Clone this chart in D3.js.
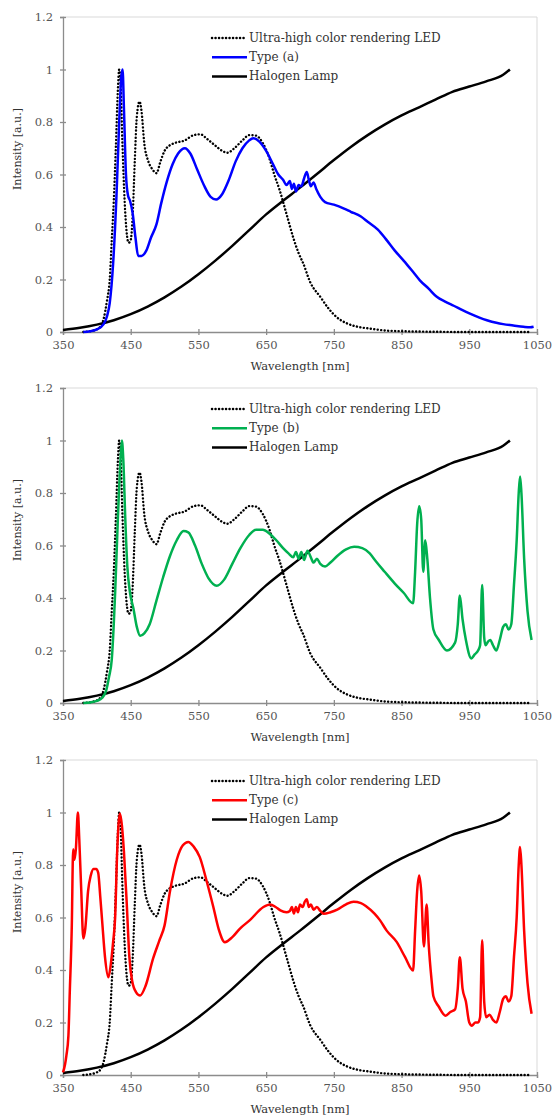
<!DOCTYPE html>
<html lang="en">
<head>
<meta charset="UTF-8">
<title>Spectra</title>
<script src="https://d3js.org/d3.v7.min.js"></script>
<style>
  body { margin: 0; background: #fff; }
  text { font-family: "DejaVu Serif", serif; }
</style>
</head>
<body>
<div id="chart"></div>
<script>
// tick labels
const xTicks = [350, 450, 550, 650, 750, 850, 950, 1050];
const yTicks = [0, 0.2, 0.4, 0.6, 0.8, 1, 1.2];
const legendNames = ["Ultra-high color rendering LED", "Type (a)", "Halogen Lamp"];

// halogen lamp [nm, intensity]
const halogen = [[350,0.008],[375,0.016],[400,0.028],[425,0.045],[450,0.068],[475,0.097],[500,0.132],
  [525,0.173],[550,0.22],[575,0.272],[600,0.328],[625,0.388],[650,0.448],[675,0.5],[700,0.55],
  [725,0.602],[750,0.655],[775,0.705],[800,0.75],[825,0.79],[850,0.825],[875,0.855],[900,0.885],
  [925,0.915],[950,0.935],[975,0.955],[1000,0.98],[1010,1.0]];

// ultra-high color rendering LED
const led = [[380,0],[390,0.003],[400,0.01],[405,0.02],[410,0.05],[415,0.12],[419,0.2],[422,0.35],
  [425,0.5],[428,0.7],[431,0.92],[433,1.0],[435,0.95],[438,0.7],[441,0.5],[444,0.38],[447,0.34],
  [450,0.35],[453,0.45],[456,0.65],[459,0.82],[463,0.878],[466,0.84],[470,0.72],[476,0.65],
  [482,0.62],[488,0.605],[494,0.65],[500,0.69],[507,0.71],[515,0.72],[530,0.73],[543,0.75],
  [553,0.753],[563,0.735],[575,0.71],[585,0.69],[593,0.683],[603,0.7],[615,0.73],[625,0.75],
  [635,0.748],[645,0.72],[655,0.66],[662,0.6],[670,0.54],[680,0.45],[690,0.36],[698,0.3],
  [705,0.26],[715,0.19],[730,0.134],[742,0.09],[754,0.057],[770,0.032],[785,0.02],[803,0.013],
  [830,0.005],[870,0.002],[900,0.001],[950,0],[1000,0],[1040,0]];

// type (a)
const typeA = [[380,0],[390,0.003],[400,0.01],[410,0.03],[415,0.06],[419,0.11],[424,0.26],[429,0.52],
  [433,0.8],[436,0.97],[438,1.0],[440,0.85],[443,0.6],[446,0.52],[449,0.5],[453,0.45],[457,0.36],
  [461,0.29],[466,0.29],[473,0.31],[480,0.36],[488,0.41],[495,0.49],[503,0.57],[512,0.64],
  [520,0.68],[530,0.7],[538,0.68],[548,0.62],[558,0.56],[568,0.515],[576,0.505],[585,0.525],
  [595,0.58],[605,0.65],[615,0.7],[625,0.73],[631,0.738],[640,0.725],[650,0.69],[660,0.64],
  [668,0.6],[675,0.58],[680,0.56],[685,0.575],[688,0.545],[691,0.565],[694,0.535],[698,0.56],
  [702,0.555],[706,0.585],[710,0.61],[713,0.58],[716,0.555],[720,0.57],[724,0.545],[730,0.515],
  [737,0.495],[750,0.485],[765,0.47],[775,0.458],[790,0.44],[800,0.42],[815,0.39],[828,0.35],
  [840,0.31],[853,0.272],[865,0.235],[877,0.197],[890,0.165],[902,0.134],[915,0.115],[927,0.1],
  [940,0.083],[951,0.07],[965,0.055],[976,0.045],[990,0.035],[1000,0.03],[1015,0.025],
  [1030,0.02],[1040,0.018],[1045,0.02]];

// type (b)
const typeB = [[380,0],[390,0.002],[400,0.008],[408,0.02],[414,0.05],[418,0.1],[422,0.165],[427,0.42],
  [431,0.7],[435,0.93],[437,1.0],[439,0.93],[442,0.7],[445,0.52],[449,0.42],[454,0.36],[459,0.29],
  [464,0.256],[470,0.265],[478,0.3],[488,0.39],[498,0.48],[508,0.56],[518,0.62],[528,0.655],
  [535,0.65],[545,0.6],[555,0.53],[565,0.475],[577,0.447],[588,0.47],[600,0.53],[612,0.59],
  [625,0.64],[635,0.66],[645,0.66],[655,0.645],[665,0.62],[675,0.59],[683,0.57],[690,0.555],
  [694,0.575],[698,0.55],[702,0.575],[706,0.545],[711,0.58],[716,0.555],[720,0.535],[725,0.55],
  [730,0.53],[737,0.52],[745,0.535],[755,0.56],[768,0.585],[780,0.595],[792,0.59],[803,0.57],
  [812,0.54],[825,0.5],[840,0.455],[853,0.42],[867,0.38],[870,0.5],[873,0.68],[876,0.75],
  [879,0.7],[882,0.5],[885,0.62],[888,0.55],[892,0.4],[897,0.28],[905,0.24],[917,0.2],[929,0.23],
  [933,0.3],[936,0.41],[940,0.32],[945,0.24],[953,0.17],[958,0.185],[963,0.2],[966,0.22],
  [969,0.45],[972,0.25],[974,0.22],[978,0.235],[981,0.24],[985,0.22],[990,0.2],[995,0.24],
  [1000,0.29],[1004,0.3],[1008,0.28],[1012,0.3],[1016,0.45],[1020,0.62],[1023,0.8],[1025,0.863],
  [1027,0.8],[1031,0.55],[1036,0.35],[1042,0.24]];

// type (c)
const typeC = [[350,0.01],[353,0.04],[355,0.074],[358,0.15],[360,0.315],[363,0.57],[365,0.86],[367,0.82],
  [369,0.86],[372,1.0],[374,0.9],[377,0.7],[380,0.52],[383,0.56],[387,0.7],[391,0.76],[395,0.785],
  [399,0.785],[402,0.77],[405,0.68],[408,0.58],[412,0.45],[417,0.372],[420,0.41],[424,0.506],
  [427,0.6],[430,0.85],[434,0.996],[437,0.95],[440,0.85],[444,0.66],[448,0.45],[452,0.36],
  [458,0.315],[464,0.303],[472,0.34],[483,0.443],[492,0.51],[500,0.57],[508,0.7],[518,0.82],
  [527,0.875],[535,0.888],[543,0.87],[552,0.83],[562,0.74],[572,0.64],[580,0.555],[589,0.506],
  [600,0.525],[611,0.557],[626,0.59],[646,0.64],[656,0.65],[664,0.64],[671,0.627],[680,0.62],
  [685,0.625],[688,0.64],[691,0.615],[694,0.64],[697,0.62],[700,0.65],[704,0.64],[707,0.66],
  [710,0.67],[713,0.64],[716,0.65],[720,0.63],[725,0.64],[730,0.625],[735,0.614],[745,0.62],
  [755,0.63],[768,0.65],[779,0.66],[790,0.655],[799,0.64],[810,0.615],[818,0.59],[828,0.55],
  [843,0.506],[855,0.45],[867,0.398],[870,0.55],[873,0.7],[876,0.76],[879,0.7],[883,0.49],
  [887,0.65],[890,0.5],[894,0.37],[897,0.3],[905,0.26],[915,0.226],[922,0.24],[929,0.25],
  [933,0.33],[936,0.449],[940,0.33],[945,0.28],[950,0.2],[954,0.188],[959,0.2],[963,0.2],
  [966,0.22],[969,0.513],[972,0.28],[975,0.22],[980,0.23],[985,0.21],[990,0.2],[995,0.24],
  [1000,0.29],[1004,0.3],[1008,0.28],[1012,0.3],[1016,0.45],[1020,0.6],[1023,0.8],[1025,0.869],
  [1027,0.8],[1031,0.55],[1036,0.35],[1042,0.233]];

const panels = [
  { name: "Type (a)", color: "#0000ff", data: typeA, top: 17 },
  { name: "Type (b)", color: "#00b050", data: typeB, top: 388 },
  { name: "Type (c)", color: "#ff0000", data: typeC, top: 760 }
];

const W = 554, H = 1117;
const left = 63, right = 537, plotH = 315;

const svg = d3.select("#chart").append("svg")
  .attr("width", W).attr("height", H);

const x = d3.scaleLinear().domain([350, 1050]).range([left, right]);

panels.forEach(function (p) {
  const y = d3.scaleLinear().domain([0, 1.2]).range([p.top + plotH, p.top]);
  const g = svg.append("g");

  // plot frame (top + right)
  g.append("path")
    .attr("d", `M${left},${p.top}H${right}V${p.top + plotH}`)
    .attr("fill", "none").attr("stroke", "#d9d9d9").attr("stroke-width", 1);

  const xAxis = g.append("g")
    .attr("transform", `translate(0,${p.top + plotH})`)
    .call(d3.axisBottom(x).tickValues(xTicks).tickSize(3).tickPadding(6).tickFormat(d3.format("d")));
  xAxis.selectAll(".tick line").attr("y1", -3).attr("y2", 3);

  const yAxis = g.append("g")
    .attr("transform", `translate(${left},0)`)
    .call(d3.axisLeft(y).tickValues(yTicks).tickSize(3).tickPadding(7).tickFormat(d => d3.format("~g")(d)));
  yAxis.selectAll(".tick line").attr("x1", -3).attr("x2", 3);

  [xAxis, yAxis].forEach(a => {
    a.select(".domain").attr("stroke", "#8c8c8c").attr("stroke-width", 1.3);
    a.selectAll(".tick line").attr("stroke", "#8c8c8c").attr("stroke-width", 1.3);
    a.selectAll(".tick text").attr("fill", "#555").style("font-size", "11.5px");
  });

  g.append("text")
    .attr("x", (left + right) / 2).attr("y", p.top + plotH + 38)
    .attr("text-anchor", "middle").attr("fill", "#333")
    .style("font-size", "11.5px")
    .text("Wavelength [nm]");

  g.append("text")
    .attr("transform", `translate(21,${p.top + 132}) rotate(-90)`)
    .attr("text-anchor", "middle").attr("fill", "#333")
    .style("font-size", "11px")
    .text("Intensity [a.u.]");

  const line = d3.line()
    .x(d => x(d[0])).y(d => y(d[1]))
    .curve(d3.curveMonotoneX);

  g.append("path").datum(halogen)
    .attr("d", line).attr("fill", "none")
    .attr("stroke", "#000").attr("stroke-width", 2.5);

  g.append("path").datum(led)
    .attr("d", line).attr("fill", "none")
    .attr("stroke", "#000").attr("stroke-width", 2.4)
    .attr("stroke-linecap", "round").attr("stroke-dasharray", "0.1 3.4");

  g.append("path").datum(p.data)
    .attr("d", line).attr("fill", "none")
    .attr("stroke", p.color).attr("stroke-width", 2.5)
    .attr("stroke-linejoin", "round");

  // legend
  const names = [legendNames[0], p.name, legendNames[2]];
  const styles = [
    { stroke: "#000", dash: "0.1 3.4", cap: "round" },
    { stroke: p.color, dash: null, cap: "butt" },
    { stroke: "#000", dash: null, cap: "butt" }
  ];
  names.forEach(function (n, i) {
    const ly = p.top + 21 + i * 19.2;
    g.append("line")
      .attr("x1", 212).attr("x2", 247).attr("y1", ly).attr("y2", ly)
      .attr("stroke", styles[i].stroke).attr("stroke-width", 2.5)
      .attr("stroke-linecap", styles[i].cap)
      .attr("stroke-dasharray", styles[i].dash);
    g.append("text")
      .attr("x", 249).attr("y", ly + 4)
      .attr("fill", "#333").style("font-size", "12px")
      .text(n);
  });
});
</script>
</body>
</html>
